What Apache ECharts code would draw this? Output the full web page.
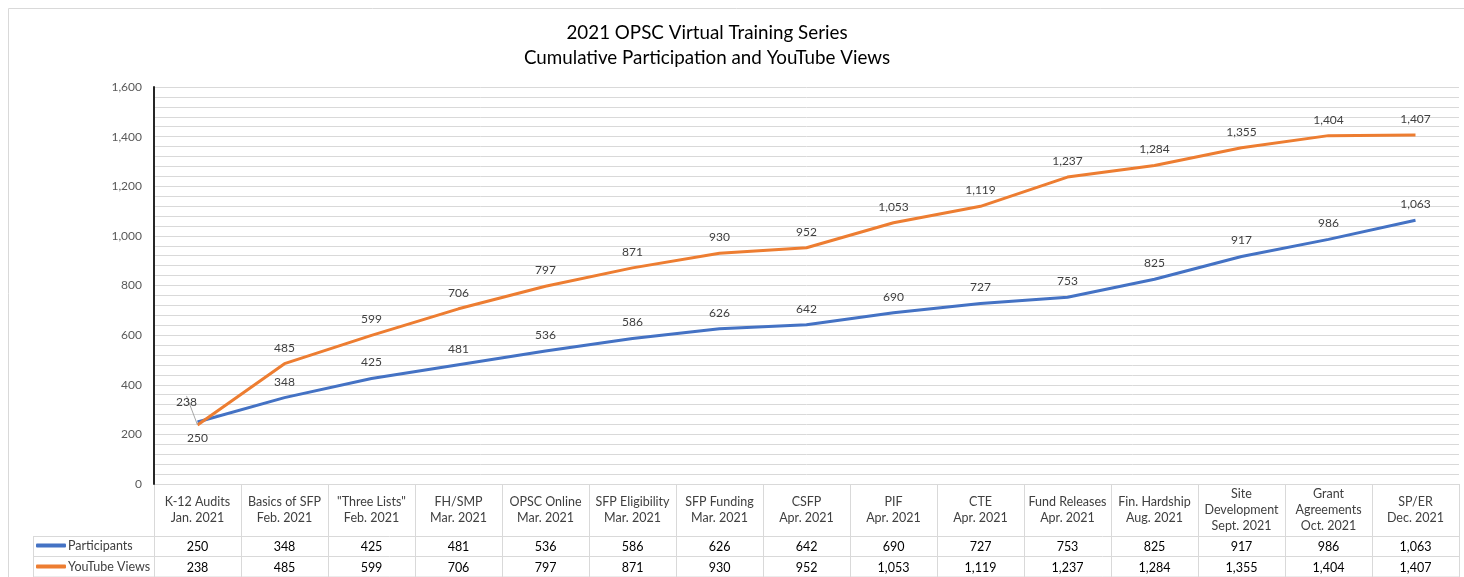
<!DOCTYPE html>
<html>
<head>
<meta charset="utf-8">
<script src="https://cdn.jsdelivr.net/npm/echarts@6/dist/echarts.min.js"></script>
<style>
  html, body { margin: 0; padding: 0; background: #fff; }
  #main { width: 1464px; height: 577px; }
</style>
</head>
<body>
<div id="main"></div>
<script>
const categories = [
  'K-12 Audits\nJan. 2021', 'Basics of SFP\nFeb. 2021', '"Three Lists"\nFeb. 2021',
  'FH/SMP\nMar. 2021', 'OPSC Online\nMar. 2021', 'SFP Eligibility\nMar. 2021',
  'SFP Funding\nMar. 2021', 'CSFP\nApr. 2021', 'PIF\nApr. 2021', 'CTE\nApr. 2021',
  'Fund Releases\nApr. 2021', 'Fin. Hardship\nAug. 2021', 'Site\nDevelopment\nSept. 2021',
  'Grant\nAgreements\nOct. 2021', 'SP/ER\nDec. 2021'
]
const participants = [250, 348, 425, 481, 536, 586, 626, 642, 690, 727, 753, 825, 917, 986, 1063]
const youtube_views = [238, 485, 599, 706, 797, 871, 930, 952, 1053, 1119, 1237, 1284, 1355, 1404, 1407]
const series_names = ['Participants', 'YouTube Views']
const title_lines = ['2021 OPSC Virtual Training Series', 'Cumulative Participation and YouTube Views']

const font = 'Lato, "Open Sans", sans-serif'
const colors = ['#4472C4', '#ED7D31']

// grid geometry (plot area + table below it)
const plot_left = 154, plot_right = 1459, plot_top = 87, plot_bottom = 484
const header_bottom = 536, row1_bottom = 556, table_bottom = 577, legend_left = 33

const fmt = v => v.toLocaleString('en-US')

// table borders
let table_lines = []
const cell_w = (plot_right - plot_left) / categories.length
for (let k = 0; k <= categories.length; ++k) {
  let x = Math.round(plot_left + k * cell_w) + 0.5
  table_lines.push({ type: 'line', shape: { x1: x, y1: plot_bottom, x2: x, y2: table_bottom }, style: { stroke: '#d9d9d9', lineWidth: 1 }, silent: true })
}
for (let y of [plot_bottom, header_bottom, row1_bottom, table_bottom - 0.5]) {
  let x1 = y === plot_bottom ? plot_left : legend_left
  table_lines.push({ type: 'line', shape: { x1: x1, y1: y + 0.5, x2: plot_right, y2: y + 0.5 }, style: { stroke: '#d9d9d9', lineWidth: 1 }, silent: true })
}
table_lines.push({ type: 'line', shape: { x1: legend_left + 0.5, y1: header_bottom, x2: legend_left + 0.5, y2: table_bottom }, style: { stroke: '#d9d9d9', lineWidth: 1 }, silent: true })

var chartDom = document.getElementById('main');
var myChart = echarts.init(chartDom);
var option;

const label_base = { show: true, position: 'top', distance: 10, fontFamily: font, fontSize: 12, color: '#404040', formatter: p => fmt(p.value) }

option = {
  animation: false,
  textStyle: { fontFamily: font },
  color: colors,
  grid: { left: plot_left, top: plot_top, width: plot_right - plot_left, height: plot_bottom - plot_top, containLabel: false },
  legend: {
    orient: 'vertical',
    left: legend_left + 3,
    top: header_bottom + 3,
    padding: 0,
    itemGap: 8,
    itemWidth: 30,
    itemHeight: 4,
    icon: 'roundRect',
    textStyle: { fontFamily: font, fontSize: 12.5, color: '#404040', padding: [0, 0, 0, -3] },
    data: series_names
  },
  graphic: [
    { type: 'rect', shape: { x: 8.5, y: 8.5, width: 1470, height: 600 }, style: { fill: 'none', stroke: '#d9d9d9', lineWidth: 1 }, silent: true, z: -1 },
    { type: 'text', x: 707, y: 20, style: { text: title_lines.join('\n'), fontFamily: font, fontSize: 18.8, lineHeight: 25, fill: '#000', align: 'center' }, silent: true },
    ...table_lines
  ],
  xAxis: [
    {
      type: 'category',
      data: categories,
      boundaryGap: true,
      axisLine: { show: false },
      axisTick: { show: false },
      axisLabel: { interval: 0, margin: 26, verticalAlign: 'middle', lineHeight: 16, fontFamily: font, fontSize: 12.5, color: '#404040' }
    },
    {
      type: 'category', data: categories, position: 'bottom', offset: 52,
      axisLine: { show: false }, axisTick: { show: false },
      axisLabel: { interval: 0, margin: 4, fontFamily: font, fontSize: 12.5, color: '#000', formatter: (v, i) => fmt(participants[i]) }
    },
    {
      type: 'category', data: categories, position: 'bottom', offset: 73,
      axisLine: { show: false }, axisTick: { show: false },
      axisLabel: { interval: 0, margin: 4, fontFamily: font, fontSize: 12.5, color: '#000', formatter: (v, i) => fmt(youtube_views[i]) }
    }
  ],
  yAxis: {
    type: 'value',
    min: 0,
    max: 1600,
    interval: 200,
    axisLine: { show: true, lineStyle: { color: '#262626', width: 2 } },
    axisTick: { show: false },
    axisLabel: { margin: 12, fontFamily: font, fontSize: 12, color: '#595959', formatter: v => fmt(v) },
    splitLine: { lineStyle: { color: '#d9d9d9', width: 1 } },
    minorTick: { show: false, splitNumber: 5 },
    minorSplitLine: { show: true, lineStyle: { color: '#d9d9d9', width: 1 } }
  },
  series: [
    {
      name: series_names[0],
      type: 'line',
      data: participants.map((v, i) => i === 0 ? { value: v, label: { position: 'bottom' } } : v),
      symbol: 'circle',
      symbolSize: 0,
      showSymbol: true,
      lineStyle: { width: 3, color: colors[0] },
      label: label_base,
      z: 3
    },
    {
      name: series_names[1],
      type: 'line',
      data: youtube_views.map((v, i) => i === 0 ? { value: v, labelLine: { show: true } } : v),
      symbol: 'circle',
      symbolSize: 0,
      showSymbol: true,
      lineStyle: { width: 3, color: colors[1] },
      label: label_base,
      labelLayout: p => p.dataIndex === 0 ? { dx: -11, dy: -7 } : {},
      labelLine: { show: false, lineStyle: { color: '#a6a6a6', width: 1 } },
      z: 4
    }
  ]
};
option && myChart.setOption(option);
</script>
</body>
</html>
